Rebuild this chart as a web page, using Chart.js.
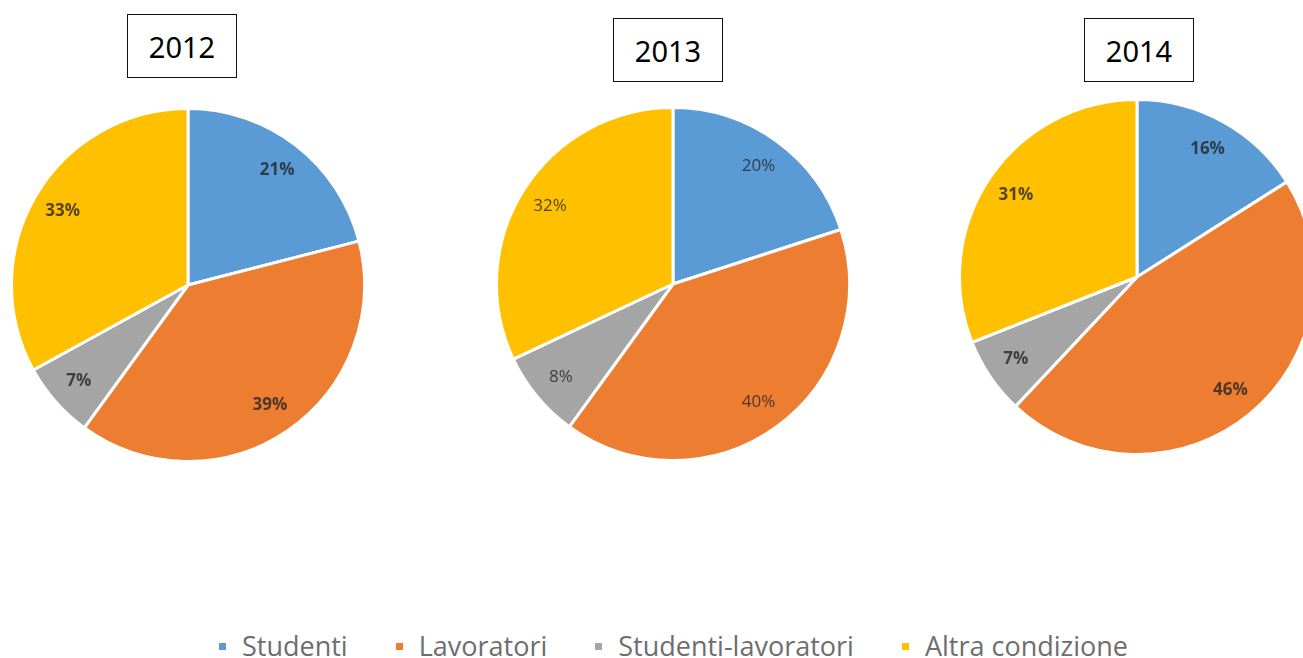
<!DOCTYPE html>
<html lang="it">
<head>
<meta charset="utf-8">
<title>Condizione 2012-2014</title>
<script src="https://cdn.jsdelivr.net/npm/chart.js@4.4.1/dist/chart.umd.min.js"></script>
<style>
  html, body { margin: 0; padding: 0; background: #fff; width: 1303px; height: 658px; overflow: hidden; }
  body { position: relative; font-family: "Open Sans", sans-serif; }
  canvas.pie { position: absolute; }
  .year {
    position: absolute; box-sizing: border-box; border: 1px solid #111; background: #fff;
    display: flex; align-items: center; justify-content: center;
    font-family: "Noto Sans", sans-serif; font-size: 29px; color: #000; line-height: 1;
  }
  #legend { position: absolute; left: 219px; top: 632px; display: flex; align-items: flex-start; }
  #legend .item { display: flex; align-items: flex-start; margin-right: 48px; }
  #legend .sw { width: 7px; height: 7px; margin-top: 11px; margin-right: 16px; }
  #legend .txt { font-size: 27px; line-height: 27px; color: #6e6e6e; white-space: nowrap; }
</style>
</head>
<body>
<div id="legend"></div>

<script>
// categories and yearly shares (%)
const categories = ['Studenti', 'Lavoratori', 'Studenti-lavoratori', 'Altra condizione'];
const years = ['2012', '2013', '2014'];
const share2012 = [21, 39, 7, 33];
const share2013 = [20, 40, 8, 32];
const share2014 = [16, 46, 7, 31];
const colors = ['#5B9BD5', '#ED7D31', '#A5A5A5', '#FFC000'];

// where each pie and its year box go on the page
const layout = [
    { data: share2012, left: 7,   top: 104, size: 362, box: [127, 14, 110, 64],  bold: true },
    { data: share2013, left: 492, top: 103, size: 362, box: [613, 18, 110, 64],  bold: false },
    { data: share2014, left: 955, top: 95,  size: 364, box: [1084, 18, 110, 64], bold: true }
];

// percent labels placed inside each slice
const pctLabels = {
    id: 'pctLabels',
    afterDatasetsDraw(chart, args, opts) {
        const ctx = chart.ctx;
        const meta = chart.getDatasetMeta(0);
        const values = chart.data.datasets[0].data;
        ctx.save();
        ctx.font = (opts.bold ? 'bold ' : '') + '17px "Open Sans"';
        ctx.fillStyle = 'rgba(35,35,35,0.78)';
        ctx.textAlign = 'center';
        ctx.textBaseline = 'middle';
        meta.data.forEach((arc, i) => {
            const p = arc.getProps(['x', 'y', 'startAngle', 'endAngle', 'outerRadius'], true);
            const mid = (p.startAngle + p.endAngle) / 2;
            const r = p.outerRadius * 0.825;
            ctx.fillText(values[i] + '%', p.x + Math.cos(mid) * r, p.y + Math.sin(mid) * r);
        });
        ctx.restore();
    }
};

layout.forEach((l, k) => {
    // year box
    const box = document.createElement('div');
    box.className = 'year';
    box.textContent = years[k];
    box.style.left = l.box[0] + 'px';
    box.style.top = l.box[1] + 'px';
    box.style.width = l.box[2] + 'px';
    box.style.height = l.box[3] + 'px';
    document.body.appendChild(box);

    const cv = document.createElement('canvas');
    cv.className = 'pie';
    cv.width = l.size;
    cv.height = l.size;
    cv.style.left = l.left + 'px';
    cv.style.top = l.top + 'px';
    document.body.appendChild(cv);

    new Chart(cv, {
        type: 'pie',
        data: {
            labels: categories,
            datasets: [{
                data: l.data,
                backgroundColor: colors,
                borderColor: '#ffffff',
                borderWidth: 3
            }]
        },
        options: {
            responsive: false,
            devicePixelRatio: 1,
            animation: false,
            layout: { padding: 3 },
            plugins: {
                legend: { display: false },
                tooltip: { enabled: false },
                pctLabels: { bold: l.bold }
            }
        },
        plugins: [pctLabels]
    });
});

// legend along the bottom
const legend = document.getElementById('legend');
categories.forEach((name, i) => {
    const item = document.createElement('div');
    item.className = 'item';
    const sw = document.createElement('span');
    sw.className = 'sw';
    sw.style.background = colors[i];
    const txt = document.createElement('span');
    txt.className = 'txt';
    txt.textContent = name;
    item.appendChild(sw);
    item.appendChild(txt);
    legend.appendChild(item);
});
</script>
</body>
</html>
